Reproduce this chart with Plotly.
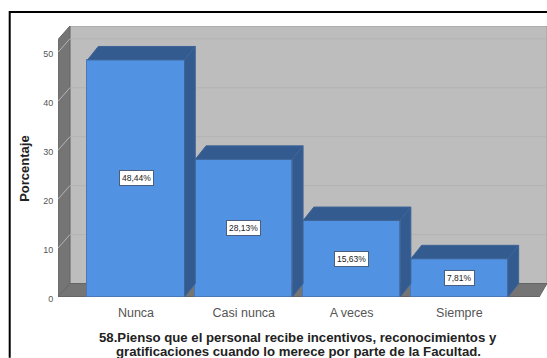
import plotly.graph_objects as go

categories = ["Nunca", "Casi nunca", "A veces", "Siempre"]
values = [48.44, 28.13, 15.63, 7.81]
labels = ["48,44%", "28,13%", "15,63%", "7,81%"]
y_ticks = [0, 10, 20, 30, 40, 50]
y_title = "Porcentaje"
x_title_lines = ["58.Pienso que el personal recibe incentivos, reconocimientos y",
                 "gratificaciones cuando lo merece por parte de la Facultad."]

W, H = 547, 358
L, R, T, B = 58, 547, 26, 297.3
XMIN, XMAX = -0.7236, 3.813
YMAX = 55.37
BAR_W = 0.9
DX, DY = 0.1, 2.75          # bar depth in axis units
WX, WY = 0.111, 2.75        # wall depth in axis units
YTOP = 52.6
FRONT = "#5192e3"; DARK = "#345b90"; WALL = "#bdbdbd"; SIDE = "#757575"

fig = go.Figure()
fig.add_bar(x=list(range(len(values))), y=values, width=BAR_W,
            marker=dict(color=FRONT, line=dict(color="#4a79b8", width=1)),
            hoverinfo="skip", showlegend=False)

for i, v in enumerate(values):
    x0, x1 = i - BAR_W / 2, i + BAR_W / 2
    fig.add_scatter(x=[x0, x0 + DX, x1 + DX, x1, x0], y=[v, v + DY, v + DY, v, v],
                    mode="lines", fill="toself", fillcolor=DARK,
                    line=dict(color="#3f6496", width=1), hoverinfo="skip", showlegend=False)
    fig.add_scatter(x=[x1, x1 + DX, x1 + DX, x1, x1], y=[0, DY, v + DY, v, 0],
                    mode="lines", fill="toself", fillcolor=DARK,
                    line=dict(color="#3f6496", width=1), hoverinfo="skip", showlegend=False)

shapes = []
def poly(pts, fill, line=None):
    path = "M " + " L ".join(f"{a},{b}" for a, b in pts) + " Z"
    return dict(type="path", path=path, xref="x", yref="y", fillcolor=fill, layer="below",
                line=dict(color=line or fill, width=1))

xb = XMIN + WX
xf = 3.74
shapes.append(poly([(xb, WY), (xb, YMAX), (XMAX, YMAX), (XMAX, WY)], WALL, "#a0a0a0"))
shapes.append(poly([(XMIN, 0), (XMIN, YTOP), (xb, YMAX), (xb, WY)], SIDE, "#666666"))
shapes.append(poly([(XMIN, 0), (xb, WY), (XMAX, WY), (xf, 0)], SIDE, "#666666"))
for t in y_ticks[1:]:
    shapes.append(dict(type="line", xref="x", yref="y", x0=xb, x1=XMAX, y0=t + WY, y1=t + WY,
                       layer="below", line=dict(color="#b3b3b3", width=1)))
    shapes.append(dict(type="line", xref="x", yref="y", x0=XMIN, x1=xb, y0=t, y1=t + WY,
                       layer="below", line=dict(color="#b5b5b5", width=1)))
shapes.append(dict(type="line", xref="x", yref="y", x0=XMIN, x1=xf, y0=0, y1=0, layer="below",
                   line=dict(color="#5f5f5f", width=1)))

# black frame, open at right and bottom
fx = (9.7 - L) / (R - L)
fy = (B - 12) / (B - T)
shapes.append(dict(type="path", xref="paper", yref="paper",
                   path=f"M {fx},{(B - 358) / (B - T)} L {fx},{fy} L 1,{fy}",
                   line=dict(color="black", width=2)))

annots = [dict(x=i, y=v / 2, xref="x", yref="y", text=labels[i], showarrow=False,
               font=dict(family="Liberation Sans", size=8.5, color="#222222"),
               bgcolor="white", bordercolor="#4a5f7d", borderwidth=1, borderpad=2)
          for i, v in enumerate(values)]
for line, py in zip(x_title_lines, [337.5, 352]):
    annots.append(dict(x=(298 - L) / (R - L), y=(B - py) / (B - T), xref="paper", yref="paper",
                       text="<b>" + line + "</b>", showarrow=False, xanchor="center", yanchor="middle",
                       font=dict(family="Liberation Sans", size=13.2, color="#222222")))
annots.append(dict(x=(25 - L) / (R - L), y=(B - 169) / (B - T), xref="paper", yref="paper",
                   text="<b>" + y_title + "</b>", textangle=-90, showarrow=False,
                   xanchor="center", yanchor="middle",
                   font=dict(family="Liberation Sans", size=13, color="#222222")))

fig.update_layout(
    width=W, height=H, paper_bgcolor="white", plot_bgcolor="white",
    margin=dict(l=L, r=W - R, t=T, b=H - B, pad=0),
    shapes=shapes, annotations=annots, showlegend=False, bargap=0,
    xaxis=dict(range=[XMIN, XMAX], tickmode="array", tickvals=list(range(len(categories))),
               ticktext=categories, ticks="outside", ticklen=4, tickcolor="rgba(0,0,0,0)",
               showgrid=False, zeroline=False, showline=False,
               tickfont=dict(family="Liberation Sans", size=12.5, color="#555555")),
    yaxis=dict(range=[0, YMAX], tickmode="array", tickvals=y_ticks,
               ticks="outside", ticklen=2, tickcolor="rgba(0,0,0,0)", ticklabelshift=2,
               showgrid=False, zeroline=False, showline=False,
               tickfont=dict(family="Liberation Sans", size=9, color="#555555")),
)
fig.write_html("out.html", config=dict(displayModeBar=False),
               post_script="document.body.style.margin='0';document.documentElement.style.overflow='hidden';")
